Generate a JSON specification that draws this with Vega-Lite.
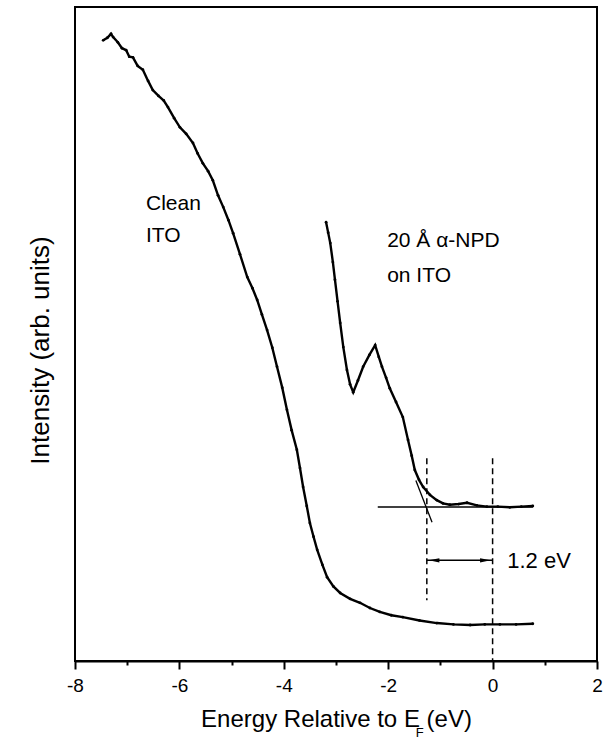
{
  "$schema": "https://vega.github.io/schema/vega-lite/v6.json",
  "width": 522,
  "height": 654,
  "autosize": "none",
  "padding": {"left": 75, "top": 7, "right": 7, "bottom": 81},
  "config": {
    "font": "Liberation Sans",
    "view": {"stroke": "black", "strokeWidth": 2}
  },
  "datasets": {
    "curves": [
      {"series": "clean", "i": 1, "e": -7.46, "v": 94.9},
      {"series": "clean", "i": 2, "e": -7.38, "v": 95.3},
      {"series": "clean", "i": 3, "e": -7.31, "v": 95.9},
      {"series": "clean", "i": 4, "e": -7.27, "v": 95.4},
      {"series": "clean", "i": 5, "e": -7.18, "v": 94.6},
      {"series": "clean", "i": 6, "e": -7.10, "v": 93.7},
      {"series": "clean", "i": 7, "e": -7.02, "v": 93.4},
      {"series": "clean", "i": 8, "e": -6.96, "v": 92.4},
      {"series": "clean", "i": 9, "e": -6.89, "v": 92.3},
      {"series": "clean", "i": 10, "e": -6.80, "v": 91.0},
      {"series": "clean", "i": 11, "e": -6.70, "v": 90.4},
      {"series": "clean", "i": 12, "e": -6.60, "v": 88.7},
      {"series": "clean", "i": 13, "e": -6.51, "v": 87.3},
      {"series": "clean", "i": 14, "e": -6.40, "v": 86.4},
      {"series": "clean", "i": 15, "e": -6.30, "v": 85.7},
      {"series": "clean", "i": 16, "e": -6.22, "v": 84.7},
      {"series": "clean", "i": 17, "e": -6.10, "v": 83.0},
      {"series": "clean", "i": 18, "e": -5.99, "v": 81.6},
      {"series": "clean", "i": 19, "e": -5.87, "v": 80.6},
      {"series": "clean", "i": 20, "e": -5.74, "v": 79.2},
      {"series": "clean", "i": 21, "e": -5.65, "v": 77.6},
      {"series": "clean", "i": 22, "e": -5.55, "v": 76.1},
      {"series": "clean", "i": 23, "e": -5.45, "v": 74.9},
      {"series": "clean", "i": 24, "e": -5.36, "v": 73.5},
      {"series": "clean", "i": 25, "e": -5.26, "v": 71.2},
      {"series": "clean", "i": 26, "e": -5.16, "v": 69.4},
      {"series": "clean", "i": 27, "e": -5.06, "v": 67.4},
      {"series": "clean", "i": 28, "e": -4.97, "v": 65.4},
      {"series": "clean", "i": 29, "e": -4.84, "v": 62.2},
      {"series": "clean", "i": 30, "e": -4.70, "v": 58.7},
      {"series": "clean", "i": 31, "e": -4.60, "v": 57.0},
      {"series": "clean", "i": 32, "e": -4.51, "v": 55.2},
      {"series": "clean", "i": 33, "e": -4.42, "v": 53.0},
      {"series": "clean", "i": 34, "e": -4.32, "v": 50.6},
      {"series": "clean", "i": 35, "e": -4.22, "v": 47.9},
      {"series": "clean", "i": 36, "e": -4.13, "v": 45.0},
      {"series": "clean", "i": 37, "e": -4.03, "v": 41.8},
      {"series": "clean", "i": 38, "e": -3.94, "v": 38.4},
      {"series": "clean", "i": 39, "e": -3.85, "v": 35.3},
      {"series": "clean", "i": 40, "e": -3.75, "v": 32.3},
      {"series": "clean", "i": 41, "e": -3.69, "v": 29.5},
      {"series": "clean", "i": 42, "e": -3.63, "v": 26.6},
      {"series": "clean", "i": 43, "e": -3.56, "v": 23.7},
      {"series": "clean", "i": 44, "e": -3.50, "v": 21.1},
      {"series": "clean", "i": 45, "e": -3.43, "v": 19.0},
      {"series": "clean", "i": 46, "e": -3.36, "v": 17.0},
      {"series": "clean", "i": 47, "e": -3.26, "v": 14.7},
      {"series": "clean", "i": 48, "e": -3.17, "v": 12.8},
      {"series": "clean", "i": 49, "e": -3.05, "v": 11.4},
      {"series": "clean", "i": 50, "e": -2.92, "v": 10.4},
      {"series": "clean", "i": 51, "e": -2.73, "v": 9.5},
      {"series": "clean", "i": 52, "e": -2.54, "v": 8.9},
      {"series": "clean", "i": 53, "e": -2.35, "v": 8.1},
      {"series": "clean", "i": 54, "e": -2.16, "v": 7.5},
      {"series": "clean", "i": 55, "e": -1.94, "v": 7.0},
      {"series": "clean", "i": 56, "e": -1.72, "v": 6.7},
      {"series": "clean", "i": 57, "e": -1.40, "v": 6.2},
      {"series": "clean", "i": 58, "e": -1.07, "v": 5.8},
      {"series": "clean", "i": 59, "e": -0.75, "v": 5.6},
      {"series": "clean", "i": 60, "e": -0.43, "v": 5.5},
      {"series": "clean", "i": 61, "e": -0.15, "v": 5.6},
      {"series": "clean", "i": 62, "e": 0.14, "v": 5.6},
      {"series": "clean", "i": 63, "e": 0.45, "v": 5.6},
      {"series": "clean", "i": 64, "e": 0.77, "v": 5.7},
      {"series": "npd", "i": 1, "e": -3.19, "v": 67.1},
      {"series": "npd", "i": 2, "e": -3.15, "v": 65.5},
      {"series": "npd", "i": 3, "e": -3.11, "v": 63.9},
      {"series": "npd", "i": 4, "e": -3.06, "v": 61.0},
      {"series": "npd", "i": 5, "e": -3.02, "v": 58.3},
      {"series": "npd", "i": 6, "e": -2.97, "v": 55.0},
      {"series": "npd", "i": 7, "e": -2.92, "v": 51.7},
      {"series": "npd", "i": 8, "e": -2.86, "v": 48.0},
      {"series": "npd", "i": 9, "e": -2.79, "v": 44.5},
      {"series": "npd", "i": 10, "e": -2.73, "v": 42.3},
      {"series": "npd", "i": 11, "e": -2.67, "v": 41.1},
      {"series": "npd", "i": 12, "e": -2.58, "v": 42.9},
      {"series": "npd", "i": 13, "e": -2.48, "v": 45.0},
      {"series": "npd", "i": 14, "e": -2.36, "v": 46.8},
      {"series": "npd", "i": 15, "e": -2.25, "v": 48.3},
      {"series": "npd", "i": 16, "e": -2.18, "v": 46.5},
      {"series": "npd", "i": 17, "e": -2.12, "v": 45.0},
      {"series": "npd", "i": 18, "e": -2.04, "v": 43.3},
      {"series": "npd", "i": 19, "e": -1.97, "v": 41.7},
      {"series": "npd", "i": 20, "e": -1.85, "v": 39.6},
      {"series": "npd", "i": 21, "e": -1.72, "v": 37.3},
      {"series": "npd", "i": 22, "e": -1.62, "v": 33.8},
      {"series": "npd", "i": 23, "e": -1.55, "v": 31.4},
      {"series": "npd", "i": 24, "e": -1.49, "v": 29.2},
      {"series": "npd", "i": 25, "e": -1.41, "v": 27.7},
      {"series": "npd", "i": 26, "e": -1.33, "v": 26.6},
      {"series": "npd", "i": 27, "e": -1.20, "v": 25.4},
      {"series": "npd", "i": 28, "e": -1.07, "v": 24.6},
      {"series": "npd", "i": 29, "e": -0.95, "v": 24.1},
      {"series": "npd", "i": 30, "e": -0.82, "v": 23.9},
      {"series": "npd", "i": 31, "e": -0.65, "v": 24.0},
      {"series": "npd", "i": 32, "e": -0.49, "v": 24.2},
      {"series": "npd", "i": 33, "e": -0.30, "v": 23.8},
      {"series": "npd", "i": 34, "e": -0.11, "v": 23.6},
      {"series": "npd", "i": 35, "e": 0.10, "v": 23.6},
      {"series": "npd", "i": 36, "e": 0.33, "v": 23.5},
      {"series": "npd", "i": 37, "e": 0.55, "v": 23.6},
      {"series": "npd", "i": 38, "e": 0.77, "v": 23.7}
    ],
    "fits": [
      {"line": "baseline", "i": 1, "e": -2.20, "v": 23.55},
      {"line": "baseline", "i": 2, "e": 0.77, "v": 23.55},
      {"line": "tangent", "i": 1, "e": -1.47, "v": 27.6},
      {"line": "tangent", "i": 2, "e": -1.16, "v": 21.2}
    ],
    "dashes": [
      {"e": -1.26, "top": 31.0, "bottom": 9.3},
      {"e": 0.0, "top": 31.0, "bottom": 0.0}
    ],
    "arrow": [
      {"from": -1.26, "to": 0.0, "v": 15.4}
    ],
    "heads": [
      {"e": -1.12, "v": 15.4, "dir": "left"},
      {"e": -0.14, "v": 15.4, "dir": "right"}
    ],
    "labels": [
      {"e": -6.64, "v": 69.0, "text": "Clean", "size": 21},
      {"e": -6.64, "v": 64.1, "text": "ITO", "size": 21},
      {"e": -2.02, "v": 63.3, "text": "20 Å α-NPD", "size": 21},
      {"e": -2.02, "v": 58.0, "text": "on ITO", "size": 21},
      {"e": 0.28, "v": 14.2, "text": "1.2 eV", "size": 22}
    ]
  },
  "layer": [
    {
      "data": {"name": "curves"},
      "mark": {"type": "line", "color": "black", "strokeWidth": 2.4, "point": {"filled": true, "size": 8, "color": "black"}},
      "encoding": {
        "x": {
          "field": "e", "type": "quantitative",
          "scale": {"domain": [-8, 2], "nice": false, "zero": false},
          "axis": {
            "title": "Energy Relative to E  (eV)",
            "titleFontSize": 24, "titleFontWeight": "normal", "titleColor": "black", "titlePadding": 12,
            "values": [-8, -7, -6, -5, -4, -3, -2, -1, 0, 1, 2],
            "labelExpr": "datum.value % 2 === 0 ? '' + datum.value : ''",
            "labelFontSize": 19, "labelColor": "black", "labelPadding": 7, "labelFlush": false,
            "tickSize": {"condition": {"test": "datum.value % 2 === 0", "value": 8}, "value": 4},
            "tickColor": "black", "tickWidth": 2,
            "domainColor": "black", "domainWidth": 2, "grid": false
          }
        },
        "y": {
          "field": "v", "type": "quantitative",
          "scale": {"domain": [0, 100], "nice": false, "zero": false},
          "axis": {
            "title": "Intensity (arb. units)",
            "titleFontSize": 26, "titleFontWeight": "normal", "titleColor": "black", "titlePadding": 22,
            "titleY": 343,
            "labels": false, "ticks": false, "domain": false, "grid": false
          }
        },
        "detail": {"field": "series"},
        "order": {"field": "i", "type": "quantitative"}
      }
    },
    {
      "data": {"name": "fits"},
      "mark": {"type": "line", "color": "black", "strokeWidth": 1.3},
      "encoding": {
        "x": {"field": "e", "type": "quantitative"},
        "y": {"field": "v", "type": "quantitative"},
        "detail": {"field": "line"},
        "order": {"field": "i", "type": "quantitative"}
      }
    },
    {
      "data": {"name": "dashes"},
      "mark": {"type": "rule", "color": "black", "strokeWidth": 1.5, "strokeDash": [6, 4]},
      "encoding": {
        "x": {"field": "e", "type": "quantitative"},
        "y": {"field": "top", "type": "quantitative"},
        "y2": {"field": "bottom"}
      }
    },
    {
      "data": {"name": "arrow"},
      "mark": {"type": "rule", "color": "black", "strokeWidth": 1.5},
      "encoding": {
        "x": {"field": "from", "type": "quantitative"},
        "x2": {"field": "to"},
        "y": {"field": "v", "type": "quantitative"}
      }
    },
    {
      "data": {"name": "heads"},
      "mark": {"type": "point", "filled": true, "color": "black", "opacity": 1, "size": 110},
      "encoding": {
        "x": {"field": "e", "type": "quantitative"},
        "y": {"field": "v", "type": "quantitative"},
        "shape": {
          "field": "dir", "type": "nominal", "legend": null,
          "scale": {"domain": ["left", "right"], "range": ["M-1,0L1,-0.4L1,0.4Z", "M1,0L-1,-0.4L-1,0.4Z"]}
        }
      }
    },
    {
      "data": {"name": "labels"},
      "mark": {"type": "text", "align": "left", "baseline": "alphabetic", "color": "black", "font": "Liberation Sans"},
      "encoding": {
        "x": {"field": "e", "type": "quantitative"},
        "y": {"field": "v", "type": "quantitative"},
        "text": {"field": "text"},
        "size": {"field": "size", "type": "quantitative", "scale": null}
      }
    },
    {
      "data": {"values": [{"e": -1.47, "v": 0, "text": "F"}]},
      "mark": {"type": "text", "align": "left", "baseline": "alphabetic", "color": "black", "fontSize": 13, "dy": 76, "clip": false},
      "encoding": {
        "x": {"field": "e", "type": "quantitative"},
        "y": {"field": "v", "type": "quantitative"},
        "text": {"field": "text"}
      }
    }
  ]
}
